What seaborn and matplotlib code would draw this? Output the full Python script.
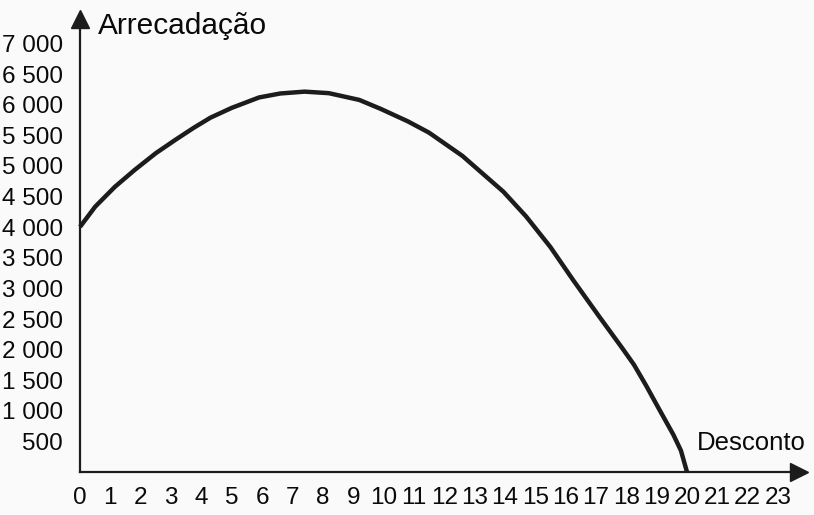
import matplotlib
matplotlib.use("Agg")
import matplotlib.pyplot as plt
import seaborn as sns

# values
desconto = [0, 0.5, 1.15, 1.8, 2.5, 3.15, 3.75, 4.3, 5, 5.9, 6.6, 7.4, 8.2,
            9.2, 9.9, 10.8, 11.5, 12.6, 13.2, 13.95, 14.7, 15.5, 16.25, 17.1,
            17.85, 18.25, 18.65, 19.1, 19.55, 19.8, 20]
arrecadacao = [4005, 4335, 4660, 4935, 5210, 5430, 5625, 5790, 5950, 6120,
               6185, 6215, 6190, 6080, 5935, 5730, 5545, 5165, 4905, 4580,
               4175, 3675, 3135, 2545, 2035, 1755, 1415, 1010, 610, 350, 0]

x_ticks = list(range(0, 24))
y_ticks = list(range(500, 7001, 500))
y_labels = [f"{v:,}".replace(",", " ") for v in y_ticks]

sns.set_theme(style="white")
plt.rcParams["font.family"] = ["Liberation Sans", "DejaVu Sans"]

W, H = 814, 515
fig = plt.figure(figsize=(W / 100, H / 100), dpi=100)
bg = "#fafafa"
fig.patch.set_facecolor(bg)

# axes box in pixel units of the reference
left, right, bottom, top = 80, 798.5, 472, 18.5
ax = fig.add_axes([left / W, 1 - bottom / H, (right - left) / W, (bottom - top) / H])
ax.set_facecolor(bg)

ink = "#1c1c1c"
sns.lineplot(x=desconto, y=arrecadacao, ax=ax, color=ink, linewidth=3.2,
             solid_capstyle="butt", solid_joinstyle="round", clip_on=False)

ax.set_xlim(0, (right - left) / 30.35)
ax.set_ylim(0, (bottom - top) / 0.0612)

for side in ["top", "right"]:
    ax.spines[side].set_visible(False)
for side in ["left", "bottom"]:
    ax.spines[side].set_linewidth(1.6)
    ax.spines[side].set_color(ink)

ax.set_xticks(x_ticks)
ax.set_xticklabels([str(v) for v in x_ticks])
ax.set_yticks(y_ticks)
ax.set_yticklabels(y_labels)
ax.tick_params(axis="both", direction="out", length=3.5, width=1.6, color=ink,
               labelsize=17.5, labelcolor="#0a0a0a", pad=7)
ax.tick_params(axis="y", pad=9)

# arrow heads at the axis ends
ax.plot(1, 0, ">", color=ink, markersize=12.5, transform=ax.transAxes, clip_on=False)
ax.plot(0, 1, "^", color=ink, markersize=12.5, transform=ax.transAxes, clip_on=False)

fig.text(98 / W, 1 - 34 / H, "Arrecadação", fontsize=21.5, color="#0a0a0a",
         ha="left", va="baseline")
fig.text(806 / W, 1 - 450 / H, "Desconto", fontsize=18.5, color="#0a0a0a",
         ha="right", va="baseline")

fig.savefig("out.png", dpi=100, facecolor=bg)
